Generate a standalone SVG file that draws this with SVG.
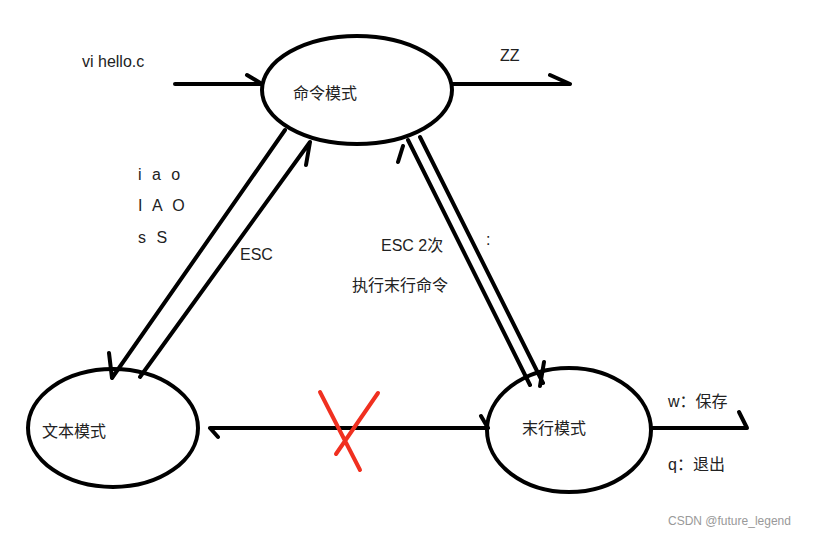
<svg xmlns="http://www.w3.org/2000/svg" width="831" height="536" viewBox="0 0 831 536">
<style>
.n{fill:none;stroke:#000;stroke-width:4}
.c{fill:none;stroke:#000;stroke-width:4;stroke-linecap:round;stroke-linejoin:round}
.t{font-family:"Liberation Sans","Noto Sans CJK SC",sans-serif;font-size:16px;fill:#222}
</style>
<rect width="831" height="536" fill="#fff"/>
<g id="cmd"><ellipse class="n" cx="357" cy="90" rx="95" ry="54"/><text class="t" x="293" y="99">命令模式</text></g>
<g id="text"><ellipse class="n" cx="113" cy="428" rx="85" ry="59"/><text class="t" x="42" y="437">文本模式</text></g>
<g id="last"><ellipse class="n" cx="569" cy="430" rx="82" ry="62"/><text class="t" x="522" y="434">末行模式</text></g>
<g id="connectors">
<path class="c" d="M175 84H262M247 75L262 84"/>
<path class="c" d="M452 84H570M550 75L570 84"/>
<path class="c" d="M285 130L112 378M109 353L112 378"/>
<path class="c" d="M140 377L310 142M306 165L310 142"/>
<path class="c" d="M408 140L530 385M398 162L403 146"/>
<path class="c" d="M420 137L543 383M544 362L540 386"/>
<path class="c" d="M210 428H488M210 428L218 437M488 428L481 416"/>
<path class="c" d="M652 428H747M747 428L739 412"/>
<path d="M320 392L360 470M378 393L336 454" fill="none" stroke="#f03020" stroke-width="4" stroke-linecap="round"/>
</g>
<g class="t">
<text x="82" y="67">vi hello.c</text>
<text x="500" y="61">ZZ</text>
<text x="138" y="180" letter-spacing="3">i a o</text>
<text x="138" y="211" letter-spacing="3">I A O</text>
<text x="138" y="243" letter-spacing="3">s S</text>
<text x="240" y="260">ESC</text>
<text x="381" y="251">ESC 2次</text>
<text x="352" y="291">执行末行命令</text>
<text x="486" y="245">:</text>
<text x="668" y="407">w：保存</text>
<text x="668" y="470">q：退出</text>
<text x="668" y="525" font-size="12" fill="#999">CSDN @future_legend</text>
</g>
</svg>
